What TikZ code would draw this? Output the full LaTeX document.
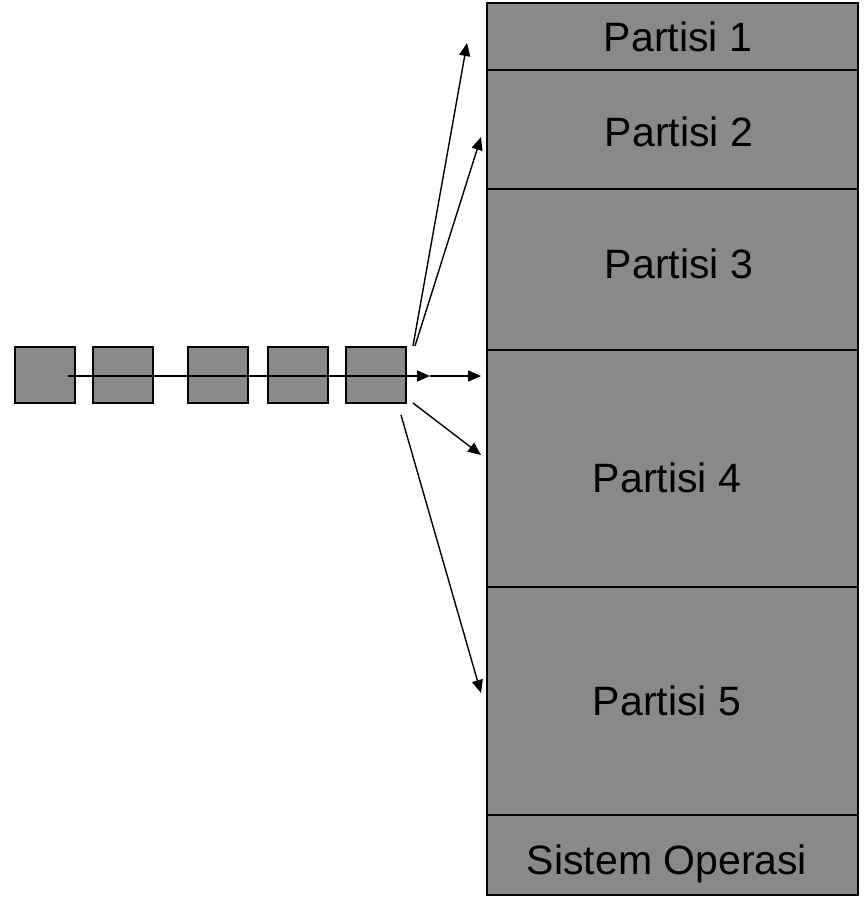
\documentclass[tikz,border=0pt]{standalone}
\usepackage{fontspec}
\setmainfont{Liberation Sans}
\usetikzlibrary{arrows.meta}
\definecolor{boxgray}{RGB}{137,137,137}
\begin{document}
\begin{tikzpicture}[x=1pt,y=-1pt,
  qbox/.style={draw=black,fill=boxgray,line width=1.8pt,minimum width=60pt,minimum height=56pt,inner sep=0pt,outer sep=0pt,anchor=north west},
  part/.style={draw=black,fill=boxgray,line width=1.8pt,inner sep=0pt,outer sep=0pt,anchor=north west,minimum width=371pt},
  ptext/.style={font=\fontsize{41}{41}\selectfont,anchor=base,inner sep=0pt},
  arr/.style={line width=1.4pt,-{Triangle[length=13pt,width=11pt]}}]
\useasboundingbox (0,0) rectangle (866,901);
% memory partitions
\node[part,minimum height=67pt] (p1) at (487,3) {};
\node[part,minimum height=119pt] (p2) at (487,70) {};
\node[part,minimum height=161pt] (p3) at (487,189) {};
\node[part,minimum height=237pt] (p4) at (487,350) {};
\node[part,minimum height=228pt] (p5) at (487,587) {};
\node[part,minimum height=80pt] (os) at (487,815) {};
\node[ptext] (t1) at (678,52) {Partisi 1};
\node[ptext] (t2) at (679,147) {Partisi 2};
\node[ptext] (t3) at (679,278) {Partisi 3};
\node[ptext] (t4) at (667,492) {Partisi 4};
\node[ptext] (t5) at (667,715) {Partisi 5};
\node[ptext] (t6) at (667,874) {Sistem Operasi};
% queue
\node[qbox] (q1) at (15,347) {};
\node[qbox] (q2) at (93,347) {};
\node[qbox] (q3) at (188,347) {};
\node[qbox] (q4) at (268,347) {};
\node[qbox] (q5) at (346,347) {};
% coordinates
\coordinate (qs) at (68,376);
\coordinate (qm) at (430,376);
\coordinate (qe) at (481,376);
\coordinate (s1) at (413,346);
\coordinate (s2) at (415,346);
\coordinate (s4) at (413,403);
\coordinate (s5) at (401,415);
\coordinate (e1) at (467,43);
\coordinate (e2) at (481,137);
\coordinate (e4) at (481,455);
\coordinate (e5) at (481,693);
\draw[arr] (qs) -- (qm);
\draw[arr] (qm) -- (qe);
\draw[arr] (s1) -- (e1);
\draw[arr] (s2) -- (e2);
\draw[arr] (s4) -- (e4);
\draw[arr] (s5) -- (e5);
\end{tikzpicture}
\end{document}
